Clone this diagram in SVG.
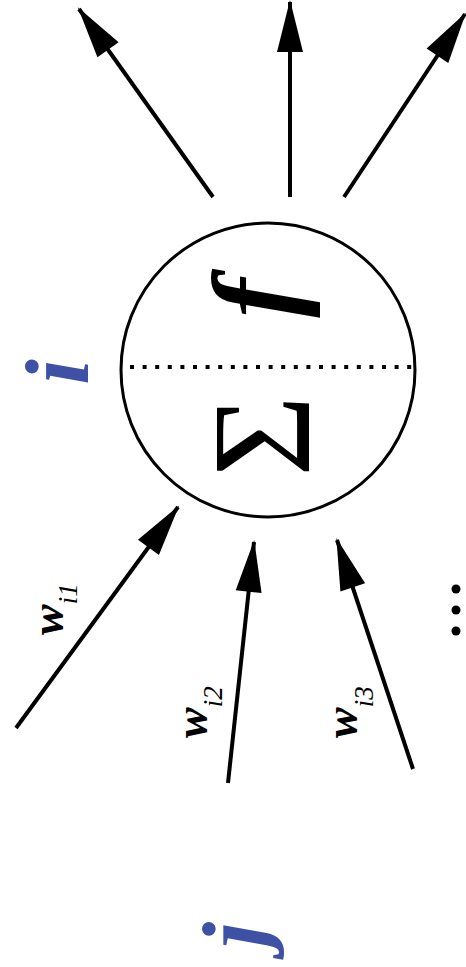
<svg xmlns="http://www.w3.org/2000/svg" width="466" height="967" viewBox="0 0 466 967">
<style>
.conn{stroke:#000;stroke-width:4;fill:none;marker-end:url(#ah)}
.lbl{font-family:"Liberation Serif",serif;font-style:italic;font-weight:bold;fill:#000}
.sub{font-weight:normal}
.blue{font-family:"Liberation Serif",serif;font-style:italic;font-weight:bold;fill:#3f51a5}
</style>
<defs>
<marker id="ah" markerUnits="userSpaceOnUse" markerWidth="54" markerHeight="28" viewBox="0 0 52 28" refX="50" refY="14" orient="auto">
<path d="M0,1 L52,14 L0,27 z" fill="#000"/>
</marker>
</defs>
<rect width="466" height="967" fill="#fff"/>
<g id="connectors">
<line class="conn" x1="213" y1="197" x2="79" y2="9"/>
<line class="conn" x1="290" y1="197" x2="290" y2="2"/>
<line class="conn" x1="344" y1="197" x2="465" y2="14"/>
<line class="conn" x1="16" y1="728" x2="178" y2="507"/>
<line class="conn" x1="228" y1="783" x2="254" y2="542"/>
<line class="conn" x1="413" y1="769" x2="337" y2="540"/>
</g>
<g id="neuron">
<circle cx="268" cy="370" r="147" fill="none" stroke="#000" stroke-width="3"/>
<line x1="130" y1="367" x2="414" y2="367" stroke="#000" stroke-width="4" stroke-dasharray="4 8.6"/>
<text transform="translate(295,298) rotate(-90)" text-anchor="middle" style="font-family:'Liberation Serif',serif;font-style:italic;font-weight:bold;font-size:118px;fill:#000">f</text>
<text transform="translate(309,436) rotate(-90)" text-anchor="middle" style="font-family:'Liberation Serif',serif;font-size:140px;fill:#000">Σ</text>
</g>
<g id="label-i">
<text class="blue" transform="translate(88,372) rotate(-90)" text-anchor="middle" font-size="92">i</text>
</g>
<g id="label-j">
<text class="blue" transform="translate(265,935) rotate(-90)" text-anchor="middle" font-size="92">j</text>
</g>
<g id="w1">
<text class="lbl" transform="translate(63,635) rotate(-90)" font-size="46">w<tspan class="sub" font-size="27" dy="14">i1</tspan></text>
</g>
<g id="w2">
<text class="lbl" transform="translate(207,738) rotate(-90)" font-size="46">w<tspan class="sub" font-size="27" dy="15">i2</tspan></text>
</g>
<g id="w3">
<text class="lbl" transform="translate(357,738) rotate(-90)" font-size="46">w<tspan class="sub" font-size="27" dy="16">i3</tspan></text>
</g>
<g id="ellipsis">
<circle cx="456" cy="589" r="4.5" fill="#000"/>
<circle cx="456" cy="610" r="4.5" fill="#000"/>
<circle cx="456" cy="631" r="4.5" fill="#000"/>
</g>
</svg>
